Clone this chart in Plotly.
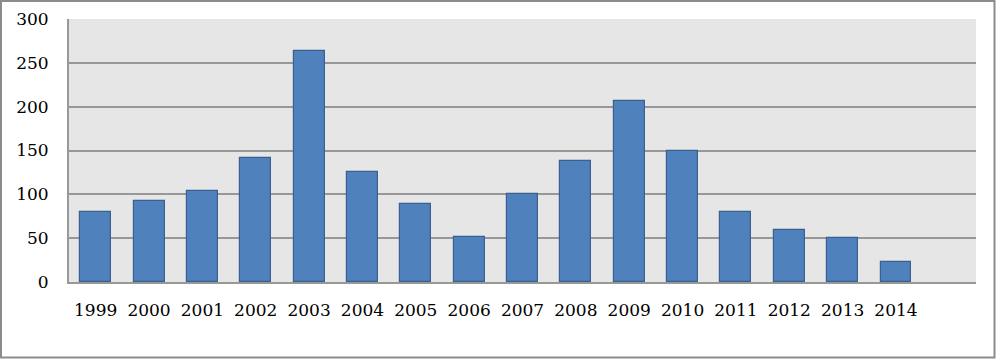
import plotly.graph_objects as go

years = [1999, 2000, 2001, 2002, 2003, 2004, 2005, 2006, 2007, 2008,
         2009, 2010, 2011, 2012, 2013, 2014]
values = [80, 92, 104, 141, 263, 125, 89, 51, 100, 138,
          207, 149, 80, 59, 50, 23]
y_ticks = [0, 50, 100, 150, 200, 250, 300]

fig = go.Figure()
fig.add_trace(go.Bar(
    x=years, y=values,
    width=0.58,
    marker=dict(color="#4f81bd", line=dict(color="#3a6090", width=1.2)),
    hoverinfo="x+y",
))

font = dict(family="DejaVu Serif", size=17, color="#000000")

fig.update_layout(
    width=996, height=359,
    margin=dict(l=69, r=20, t=19, b=77, autoexpand=False),
    paper_bgcolor="#ffffff",
    plot_bgcolor="#e6e6e6",
    showlegend=False,
    bargap=0,
    font=font,
    xaxis=dict(
        range=[1998.5, 2015.5],
        tickmode="array", tickvals=years, ticktext=[str(y) for y in years],
        showgrid=False, zeroline=False,
        showline=True, linecolor="#989898", linewidth=2,
        ticks="", ticklabelstandoff=12,
        tickfont=font, fixedrange=True, automargin=False,
    ),
    yaxis=dict(
        range=[0, 300],
        tickmode="array", tickvals=y_ticks,
        showgrid=True, gridcolor="#989898", gridwidth=2,
        zeroline=False,
        showline=True, linecolor="#989898", linewidth=2,
        ticks="outside", ticklen=15, tickcolor="rgba(0,0,0,0)",
        tickfont=font, fixedrange=True, automargin=False,
    ),
    shapes=[dict(
        type="rect", xref="paper", yref="paper",
        x0=(1 - 69) / 907, x1=(994.5 - 69) / 907,
        y0=(282 - 357.5) / 263, y1=(282 - 1) / 263,
        line=dict(color="#8c8c8c", width=2), fillcolor="rgba(0,0,0,0)",
        layer="below",
    )],
)

fig.write_html("out.html")
